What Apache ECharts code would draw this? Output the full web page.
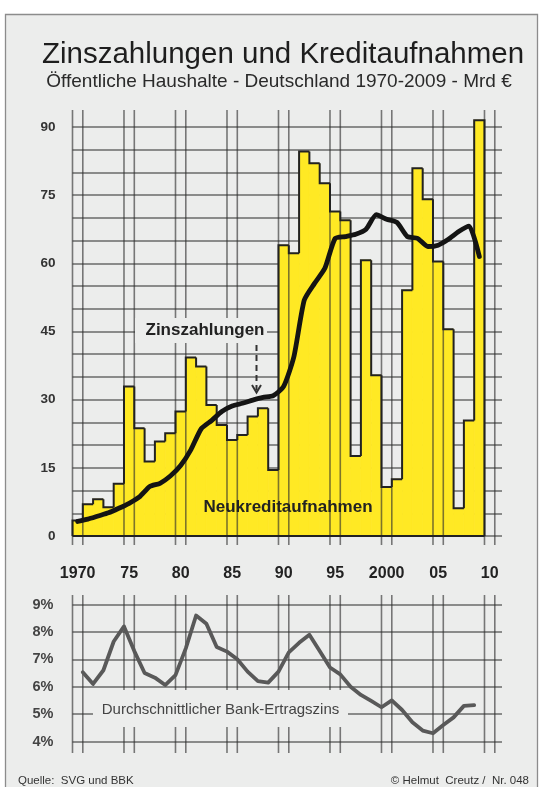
<!DOCTYPE html>
<html>
<head>
<meta charset="utf-8">
<script src="https://cdn.jsdelivr.net/npm/echarts@6/dist/echarts.min.js"></script>
<style>html,body{margin:0;padding:0;background:#fff}#c{width:543px;height:787px}</style>
</head>
<body>
<div id="c"></div>
<script>
// ---------- DATA ----------
const years = [1970,1971,1972,1973,1974,1975,1976,1977,1978,1979,
               1980,1981,1982,1983,1984,1985,1986,1987,1988,1989,
               1990,1991,1992,1993,1994,1995,1996,1997,1998,1999,
               2000,2001,2002,2003,2004,2005,2006,2007,2008,2009];
// Neukreditaufnahmen (Mrd €)
const newBorrowing = [3.4,7.0,8.1,6.3,11.5,32.9,23.7,16.4,20.8,22.6,
                      27.4,39.3,37.3,28.8,24.4,21.1,22.2,26.3,28.1,14.5,
                      64.0,62.2,84.6,82.0,77.6,71.4,69.5,17.6,60.7,35.4,
                      10.8,12.5,54.1,80.9,74.1,60.4,45.5,6.1,25.4,91.5];
// Zinszahlungen (Mrd €)
const interestPayments = [3.2,3.7,4.4,5.1,6.1,7.2,8.6,10.9,11.6,13.2,
                          15.5,19.0,23.6,25.4,27.4,28.6,29.2,29.9,30.5,30.9,
                          32.9,39.5,51.9,55.6,58.9,65.5,65.9,66.4,67.5,70.7,
                          69.7,69.0,65.9,65.5,63.7,64.0,65.3,67.0,68.2,61.5];
// Durchschnittlicher Bank-Ertragszins (%)
const rateYears = [1971,1972,1973,1974,1975,1976,1977,1978,1979,1980,
                   1981,1982,1983,1984,1985,1986,1987,1988,1989,1990,
                   1991,1992,1993,1994,1995,1996,1997,1998,1999,2000,
                   2001,2002,2003,2004,2005,2006,2007,2008,2009];
const bankRate = [6.53,6.1,6.6,7.65,8.2,7.3,6.5,6.33,6.06,6.42,
                  7.4,8.6,8.3,7.45,7.28,7.0,6.55,6.2,6.15,6.55,
                  7.25,7.6,7.9,7.3,6.7,6.45,6.0,5.7,5.48,5.25,
                  5.5,5.15,4.7,4.4,4.3,4.6,4.88,5.3,5.33];
// tick labels
const xTickYears  = [1970,1975,1980,1985,1990,1995,2000,2005,2010];
const xTickLabels = ['1970','75','80','85','90','95','2000','05','10'];
const yTopTicks   = [0,15,30,45,60,75,90];
const yRateTicks  = ['4%','5%','6%','7%','8%','9%'];
// ---------- STYLE ----------
const BG = '#ecedec';
const YELLOW = '#ffe924';
const GRIDC = '#6a6a6a';
const FONT = '"Liberation Sans", Arial, Helvetica, sans-serif';

const chart = echarts.init(document.getElementById('c'), null, {renderer: 'canvas'});

function vLines(topVal, botVal, extTop, extBot) {
  return function (params, api) {
    const y0 = api.value(0);
    const children = [y0, y0 + 1].map(function (xx) {
      const pTop = api.coord([xx, topVal]);
      const pBot = api.coord([xx, botVal]);
      return {type: 'line', shape: {x1: pTop[0], y1: pTop[1] - extTop, x2: pBot[0], y2: pBot[1] + extBot},
              style: {stroke: 'rgba(45,45,45,0.62)', lineWidth: 1.6}};
    });
    return {type: 'group', children: children};
  };
}

const lastYear = years[years.length - 1];

const option = {
  animation: false,
  backgroundColor: BG,
  textStyle: {fontFamily: FONT},
  grid: [
    {left: 72.5, right: 41, top: 127, bottom: 251, outerBoundsMode: 'none'},
    {left: 72.5, right: 41, top: 604.5, bottom: 45.5, outerBoundsMode: 'none'}
  ],
  xAxis: [
    {type: 'value', gridIndex: 0, min: 1970, max: 2011.7, interval: 5,
     axisLine: {show: false}, axisTick: {show: false}, splitLine: {show: false},
     axisLabel: {margin: 29, showMinLabel: true, showMaxLabel: true,
       formatter: function (v) { const i = xTickYears.indexOf(v); return i < 0 ? '' : '{a|' + xTickLabels[i] + '}'; },
       rich: {a: {fontSize: 16, fontWeight: 'bold', color: '#222', fontFamily: FONT, padding: [0, 0, 0, 10.3], lineHeight: 18}}}},
    {type: 'value', gridIndex: 1, min: 1970, max: 2011.7, interval: 5,
     axisLine: {show: false}, axisTick: {show: false}, splitLine: {show: false}, axisLabel: {show: false}}
  ],
  yAxis: [
    {type: 'value', gridIndex: 0, min: 0, max: 90, interval: 5,
     axisLine: {show: false}, axisTick: {show: false},
     splitLine: {show: true, lineStyle: {color: GRIDC, width: 1.5}},
     axisLabel: {margin: 17, fontSize: 13.5, fontWeight: 'bold', color: '#333', fontFamily: FONT,
       formatter: function (v) { return yTopTicks.indexOf(v) >= 0 ? String(v) : ''; }}},
    {type: 'value', gridIndex: 1, min: 4, max: 9, interval: 1,
     axisLine: {show: false}, axisTick: {show: false},
     splitLine: {show: true, lineStyle: {color: GRIDC, width: 1.5}},
     axisLabel: {margin: 19, fontSize: 14.5, fontWeight: 'bold', color: '#444', fontFamily: FONT,
       formatter: function (v) { return yRateTicks[Math.round(v - 4)] || ''; }}}
  ],
  series: [
    // yellow bar fill
    {type: 'custom', xAxisIndex: 0, yAxisIndex: 0, z: 1, silent: true,
     data: years.map(function (y, i) { return [y, newBorrowing[i]]; }),
     encode: {x: 0, y: 1},
     renderItem: function (params, api) {
       const x0 = api.value(0), v = api.value(1);
       const a = api.coord([x0, 0]), b = api.coord([x0 + 1, v]);
       return {type: 'rect', shape: {x: a[0], y: b[1], width: b[0] - a[0], height: a[1] - b[1]},
               style: {fill: YELLOW, stroke: YELLOW, lineWidth: 0.8}};
     }},
    // vertical grid line pairs (top)
    {type: 'custom', xAxisIndex: 0, yAxisIndex: 0, z: 2, silent: true, clip: false,
     data: xTickYears.map(function (y) { return [y, 0]; }),
     encode: {x: 0, y: 1},
     renderItem: vLines(90, 0, 17, 9)},
    // bar outline
    {type: 'custom', xAxisIndex: 0, yAxisIndex: 0, z: 3, silent: true, clip: false,
     data: years.map(function (y, i) { return [y, newBorrowing[i]]; }),
     encode: {x: 0, y: 1},
     renderItem: function (params, api) {
       const i = params.dataIndex;
       const x0 = api.value(0), v = api.value(1);
       const prev = i === 0 ? 0 : newBorrowing[i - 1];
       const pts = [api.coord([x0, prev]), api.coord([x0, v]), api.coord([x0 + 1, v])];
       if (i === years.length - 1) pts.push(api.coord([x0 + 1, 0]));
       const children = [{type: 'polyline', shape: {points: pts},
         style: {stroke: '#222', lineWidth: 2, fill: null, lineJoin: 'miter'}}];
       if (i === 0) {
         const a = api.coord([years[0], 0]), b = api.coord([lastYear + 1, 0]);
         children.push({type: 'line', shape: {x1: a[0], y1: a[1], x2: b[0], y2: b[1]},
           style: {stroke: '#222', lineWidth: 2}});
       }
       return {type: 'group', children: children};
     }},
    // Zinszahlungen
    {type: 'line', xAxisIndex: 0, yAxisIndex: 0, z: 5, silent: true,
     data: years.map(function (y, i) { return [y + 0.5, interestPayments[i]]; }),
     showSymbol: false, smooth: 0.2,
     lineStyle: {color: '#141414', width: 4.8, cap: 'round', join: 'round'}},
    // vertical grid line pairs (bottom)
    {type: 'custom', xAxisIndex: 1, yAxisIndex: 1, z: 2, silent: true, clip: false,
     data: xTickYears.map(function (y) { return [y, 4]; }),
     encode: {x: 0, y: 1},
     renderItem: vLines(9, 4, 9.5, 11.5)},
    // Bank-Ertragszins
    {type: 'line', xAxisIndex: 1, yAxisIndex: 1, z: 5, silent: true,
     data: rateYears.map(function (y, i) { return [y, bankRate[i]]; }),
     showSymbol: false,
     lineStyle: {color: '#595959', width: 3.8, cap: 'round', join: 'round'}}
  ],
  graphic: [
    // outer white margin + frame
    {type: 'rect', z: 1, silent: true, shape: {x: 0, y: 0, width: 543, height: 14}, style: {fill: '#ffffff'}},
    {type: 'rect', z: 1, silent: true, shape: {x: 0, y: 0, width: 5, height: 787}, style: {fill: '#ffffff'}},
    {type: 'rect', z: 1, silent: true, shape: {x: 538, y: 0, width: 5, height: 787}, style: {fill: '#ffffff'}},
    {type: 'polyline', z: 1, silent: true, shape: {points: [[5.5, 800], [5.5, 14.5], [537.5, 14.5], [537.5, 800]]},
     style: {stroke: '#8c8c8c', lineWidth: 1.3, fill: null}},
    // label backgrounds
    {type: 'rect', z: 4, silent: true, shape: {x: 135, y: 318, width: 132, height: 25}, style: {fill: BG}},
    {type: 'rect', z: 4, silent: true, shape: {x: 93, y: 690, width: 255, height: 37}, style: {fill: BG}},
    // titles
    {type: 'text', z: 6, silent: true, x: 283, y: 55,
     style: {text: 'Zinszahlungen und Kreditaufnahmen', fontSize: 29.5, fontFamily: FONT, fill: '#1e1e1e',
             align: 'center', verticalAlign: 'middle', textAlign: 'center', textVerticalAlign: 'middle'}},
    {type: 'text', z: 6, silent: true, x: 279, y: 82,
     style: {text: 'Öffentliche Haushalte - Deutschland 1970-2009 - Mrd €', fontSize: 19, fontFamily: FONT, fill: '#2a2a2a',
             align: 'center', verticalAlign: 'middle', textAlign: 'center', textVerticalAlign: 'middle'}},
    // annotations
    {type: 'text', z: 6, silent: true, x: 205, y: 330.5,
     style: {text: 'Zinszahlungen', fontSize: 17, fontWeight: 'bold', fontFamily: FONT, fill: '#222',
             align: 'center', verticalAlign: 'middle', textAlign: 'center', textVerticalAlign: 'middle'}},
    {type: 'line', z: 6, silent: true, shape: {x1: 256.5, y1: 345, x2: 256.5, y2: 390},
     style: {stroke: '#333', lineWidth: 2, lineDash: [6, 4]}},
    {type: 'polyline', z: 6, silent: true, shape: {points: [[252, 385], [256.5, 392.5], [261, 385]]},
     style: {stroke: '#333', lineWidth: 2, fill: null}},
    {type: 'text', z: 6, silent: true, x: 288, y: 507,
     style: {text: 'Neukreditaufnahmen', fontSize: 17, fontWeight: 'bold', fontFamily: FONT, fill: '#222',
             align: 'center', verticalAlign: 'middle', textAlign: 'center', textVerticalAlign: 'middle'}},
    {type: 'text', z: 6, silent: true, x: 220.5, y: 710,
     style: {text: 'Durchschnittlicher Bank-Ertragszins', fontSize: 15, fontFamily: FONT, fill: '#444',
             align: 'center', verticalAlign: 'middle', textAlign: 'center', textVerticalAlign: 'middle'}},
    // footer
    {type: 'text', z: 6, silent: true, x: 18, y: 781,
     style: {text: 'Quelle:  SVG und BBK', fontSize: 11.5, fontFamily: FONT, fill: '#333',
             align: 'left', verticalAlign: 'middle', textAlign: 'left', textVerticalAlign: 'middle'}},
    {type: 'text', z: 6, silent: true, x: 529, y: 781,
     style: {text: '© Helmut  Creutz /  Nr. 048', fontSize: 11.5, fontFamily: FONT, fill: '#333',
             align: 'right', verticalAlign: 'middle', textAlign: 'right', textVerticalAlign: 'middle'}}
  ]
};
chart.setOption(option);
</script>
</body>
</html>
